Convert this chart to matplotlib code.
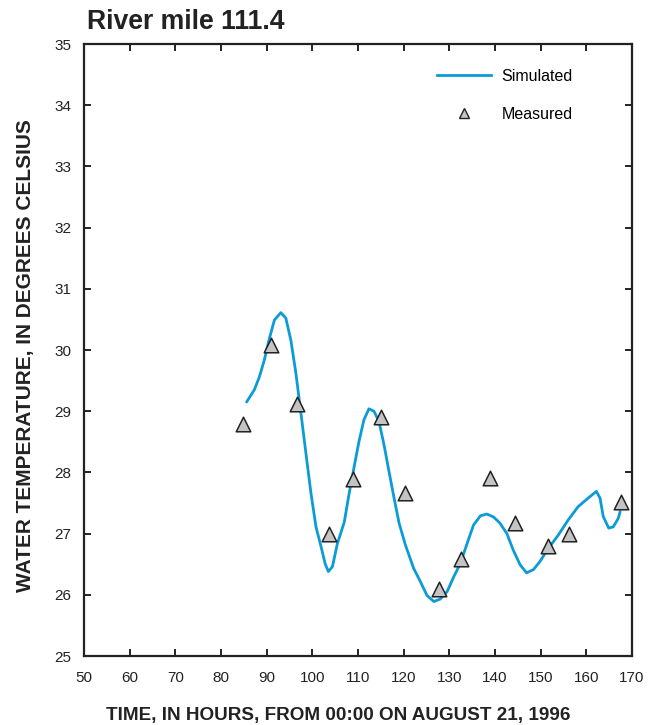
import matplotlib
matplotlib.use("Agg")
import matplotlib.pyplot as plt
from matplotlib.lines import Line2D

plt.rcParams['font.family'] = ['Liberation Sans', 'DejaVu Sans']

# Simulated temperature (hours, deg C)
sim_hours = [85.6, 87.3, 88.4, 89.5, 90.6, 91.7, 93.1, 94.2, 95.3, 96.4, 97.5, 98.6,
             99.7, 100.8, 101.9, 102.8, 103.5, 104.4, 105.5, 107.0, 108.0, 109.1,
             110.2, 111.3, 112.4, 113.5, 114.6, 115.7, 116.8, 117.9, 119.0, 120.4,
             122.2, 123.7, 125.1, 126.6, 128.0, 129.5, 131.0, 132.4, 133.9, 135.3,
             136.8, 138.2, 139.7, 141.1, 142.6, 144.0, 145.5, 146.9, 148.4, 149.8,
             151.7, 153.9, 156.0, 158.2, 160.4, 162.2, 163.0, 163.7, 164.9, 165.9,
             167.0, 167.4]
sim_temp = [29.15, 29.35, 29.56, 29.84, 30.19, 30.49, 30.61, 30.52, 30.16, 29.62, 28.97, 28.31,
            27.66, 27.11, 26.79, 26.51, 26.38, 26.46, 26.84, 27.19, 27.63, 28.07,
            28.50, 28.86, 29.04, 29.00, 28.83, 28.45, 28.01, 27.58, 27.17, 26.81,
            26.43, 26.21, 25.99, 25.89, 25.93, 26.05, 26.30, 26.51, 26.84, 27.14,
            27.29, 27.32, 27.27, 27.17, 27.00, 26.73, 26.49, 26.36, 26.41, 26.54,
            26.76, 26.98, 27.22, 27.44, 27.58, 27.69, 27.58, 27.28, 27.09, 27.11,
            27.25, 27.36]

# Measured temperature
meas_hours = [84.9, 90.9, 96.6, 103.7, 108.8, 115.0, 120.4, 127.8, 132.6, 138.9,
              144.3, 151.7, 156.3, 167.5]
meas_temp = [28.79, 30.08, 29.12, 26.99, 27.89, 28.91, 27.67, 26.10, 26.58, 27.91,
             27.18, 26.80, 26.99, 27.52]

x_ticks = list(range(50, 171, 10))
y_ticks = list(range(25, 36, 1))

W, H = 658, 725
fig = plt.figure(figsize=(W / 100, H / 100), dpi=100)
ax = fig.add_axes([84 / W, 1 - 656 / H, (632 - 84) / W, (656 - 44) / H])

ax.plot(sim_hours, sim_temp, color='#0b9bd7', lw=2.0, zorder=2,
        solid_joinstyle='round', solid_capstyle='round')
ax.scatter(meas_hours, meas_temp, marker='^', s=110, facecolor='#c4c4c4',
           edgecolor='#222222', linewidths=1.1, zorder=3)

ax.set_xlim(50, 170)
ax.set_ylim(25, 35)
ax.set_xticks(x_ticks)
ax.set_yticks(y_ticks)
ax.tick_params(direction='in', length=5, width=1.4, top=True, right=True,
               labelsize=11, pad=9, colors='#222222')
ax.tick_params(axis='x', pad=11)
for s in ax.spines.values():
    s.set_linewidth(1.6)
    s.set_color('#222222')

fig.text(338 / W, 1 - 715.5 / H, 'TIME, IN HOURS, FROM 00:00 ON AUGUST 21, 1996',
         fontsize=13.6, fontweight='bold', color='#222222', ha='center', va='center')
fig.text(25.5 / W, 1 - 355.5 / H, 'WATER TEMPERATURE, IN DEGREES CELSIUS',
         fontsize=15, fontweight='bold', color='#222222', ha='center', va='center',
         rotation=90)

fig.text(87 / W, 1 - 29 / H, 'River mile 111.4', fontsize=19.2, fontweight='bold',
         color='#222222', ha='left', va='baseline')

handles = [Line2D([0], [0], color='#0b9bd7', lw=2.0),
           Line2D([0], [0], marker='^', ls='none', markersize=7.5, markerfacecolor='#c4c4c4',
                  markeredgecolor='#222222', markeredgewidth=1.0)]
ax.legend(handles, ['Simulated', 'Measured'], loc='upper right', bbox_to_anchor=(0.918, 0.983),
          frameon=False, fontsize=11.5, handlelength=3.4, labelspacing=1.45,
          handletextpad=0.65)

fig.savefig('out.png', dpi=100)
